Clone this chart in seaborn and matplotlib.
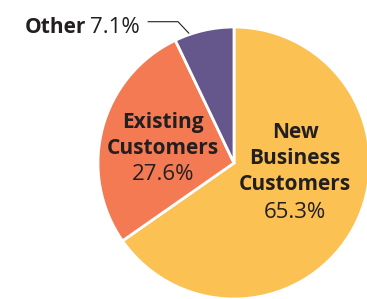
import numpy as np
import seaborn as sns
import matplotlib.pyplot as plt

# data
labels = ["New\nBusiness\nCustomers", "Existing\nCustomers", "Other"]
shares = [65.3, 27.6, 7.1]
colors = ["#FBC152", "#F37A53", "#65568C"]

sns.set_style("white")
plt.rcParams['font.family'] = ['Open Sans', 'DejaVu Sans']
txt_color = "#231F20"
fs_b = 15
fs_r = 16

fig = plt.figure(figsize=(3.67, 2.99), dpi=100)
# square axes, pie centre at (234, 163) px, radius 136 px
ax = fig.add_axes([98 / 367, 0, 272 / 367, 272 / 299])
pal = sns.color_palette(colors)
wedges, _ = ax.pie(shares, colors=pal, startangle=90, counterclock=False,
                   radius=1, wedgeprops=dict(edgecolor="white", linewidth=2))
ax.set_xlim(-1, 1)
ax.set_ylim(-1, 1)
ax.set_aspect("equal")
ax.axis("off")


def px(x, y):
    # pixel position -> data coords
    return (x - 234) / 136, (163 - y) / 136


def block(cx, baselines, name, pct):
    lines = name.split("\n")
    for line, b in zip(lines, baselines):
        x, y = px(cx, b)
        ax.text(x, y, line, ha="center", va="baseline", fontsize=fs_b,
                fontweight="bold", color=txt_color)
    x, y = px(cx, baselines[-1])
    ax.text(x, y, f"{pct}%", ha="center", va="baseline", fontsize=fs_r,
            color=txt_color)


block(295, [137.7, 164, 190.5, 218], labels[0], shares[0])
block(163, [127.7, 154, 180.5], labels[1], shares[1])

# Other label with leader line
tx, ty = px(140, 33)
t = ax.text(tx, ty, f"{shares[2]}%", ha="right", va="baseline",
            fontsize=fs_r, color=txt_color)
ax.annotate(labels[2], xy=(0, 0), xycoords=t, xytext=(-3, 0),
            textcoords="offset points", ha="right", va="bottom",
            fontsize=fs_b, fontweight="bold", color=txt_color)
ang = np.deg2rad(360 * shares[2] / 100 * 0.75)
end = (-np.sin(ang) * 1.01, np.cos(ang) * 1.01)
x0, y0 = px(148, 21.7)
x1, _ = px(178, 21.7)
ax.plot([x0, x1, end[0]], [y0, y0, end[1]], color=txt_color, lw=0.8,
        clip_on=False)

fig.savefig("out.png", dpi=100)
